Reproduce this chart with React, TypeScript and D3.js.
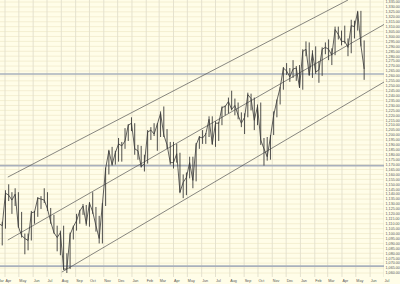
import React from 'react';
import * as d3 from 'd3';

const W = 400;
const H = 284;

// weekly bars, week ending Fridays starting 2004-03-19
const firstWeek = '2004-03-19';
const closes = [
  1110, 1108, 1141, 1139, 1134, 1140, 1107, 1098, 1095, 1093, 1121, 1122, 1136, 1135, 1134, 1125,
  1112, 1101, 1096, 1101, 1064, 1064, 1099, 1107, 1113, 1123, 1128, 1110, 1131, 1122, 1108, 1095,
  1130, 1166, 1184, 1170, 1182, 1191, 1189, 1194, 1210, 1212, 1186, 1184, 1168, 1171, 1203, 1205,
  1201, 1211, 1222, 1200, 1190, 1172, 1172, 1181, 1142, 1152, 1157, 1172, 1154, 1190, 1198, 1197,
  1201, 1216, 1191, 1212, 1212, 1228, 1229, 1234, 1226, 1230, 1220, 1212, 1218, 1241, 1237, 1215,
  1229, 1195, 1186, 1178, 1198, 1220, 1235, 1248, 1268, 1265, 1259, 1267, 1268, 1248, 1285, 1287,
  1261, 1283, 1264, 1266, 1287, 1289, 1287, 1281, 1307, 1302, 1295, 1295, 1289, 1311, 1310, 1325,
  1291, 1267,
];
const highs = [
  1125, 1112, 1144, 1150, 1142, 1146, 1142, 1122, 1100, 1100, 1123, 1123, 1137, 1138, 1146, 1142,
  1126, 1119, 1108, 1103, 1108, 1080, 1101, 1108, 1120, 1124, 1130, 1129, 1132, 1142, 1127, 1118,
  1131, 1167, 1185, 1188, 1184, 1197, 1193, 1207, 1211, 1218, 1212, 1190, 1189, 1180, 1205, 1208,
  1212, 1212, 1224, 1229, 1206, 1193, 1193, 1191, 1182, 1160, 1162, 1178, 1178, 1192, 1199, 1205,
  1202, 1219, 1219, 1214, 1213, 1229, 1230, 1238, 1245, 1237, 1233, 1223, 1222, 1243, 1242, 1238,
  1231, 1233, 1197, 1198, 1200, 1224, 1236, 1249, 1269, 1273, 1268, 1276, 1270, 1271, 1287, 1295,
  1294, 1286, 1290, 1275, 1289, 1294, 1297, 1288, 1310, 1310, 1306, 1311, 1298, 1317, 1316, 1326,
  1326, 1296,
];
const lows = [
  1105, 1088, 1105, 1133, 1120, 1128, 1106, 1096, 1079, 1083, 1093, 1110, 1117, 1125, 1131, 1123,
  1110, 1100, 1082, 1078, 1063, 1060, 1064, 1094, 1103, 1110, 1119, 1108, 1107, 1120, 1102, 1090,
  1090, 1128, 1160, 1169, 1170, 1173, 1173, 1186, 1194, 1204, 1180, 1175, 1167, 1163, 1171, 1195,
  1199, 1184, 1198, 1198, 1186, 1170, 1166, 1172, 1141, 1136, 1139, 1156, 1146, 1153, 1186, 1191,
  1191, 1198, 1190, 1188, 1194, 1210, 1220, 1222, 1225, 1220, 1216, 1208, 1201, 1218, 1225, 1205,
  1210, 1190, 1169, 1174, 1175, 1200, 1218, 1231, 1246, 1261, 1254, 1258, 1255, 1248, 1246, 1280,
  1260, 1258, 1262, 1253, 1260, 1282, 1276, 1271, 1281, 1297, 1291, 1293, 1280, 1283, 1298, 1306,
  1290, 1256,
];

const yMin = 1060;
const yMax = 1335;
const yStep = 5;
const levelLines = [1262, 1169, 1067];
const channelLines: [string, number, string, number][] = [
  ['2004-04-07', 1157.3, '2006-04-14', 1337],
  ['2004-04-07', 1093.4, '2006-07-01', 1312.2],
  ['2004-08-02', 1060.9, '2006-07-01', 1253.8],
];
const axisStart = '2004-03-01';
const axisEnd = '2006-07-01';

const parse = d3.timeParse('%Y-%m-%d');

export default function App() {
  const plotRight = 384;
  const plotBottom = 277;
  const x = d3
    .scaleTime()
    .domain([parse('2004-04-01')!, parse('2006-07-01')!])
    .range([5, 384]);
  const y = d3.scaleLinear().domain([yMin, yMax]).range([273, 2]);

  const weeks = d3.timeFriday.range(parse(firstWeek)!, d3.timeDay.offset(parse(firstWeek)!, 7 * closes.length));
  const months = d3.timeMonth.range(parse(axisStart)!, d3.timeDay.offset(parse(axisEnd)!, 1));
  const yTicks = d3.range(yMin, yMax + 1, yStep);
  const fmtY = d3.format(',.2f');
  const fmtM = d3.timeFormat('%b');

  const line = d3
    .line<number>()
    .x((_, i) => x(weeks[i]))
    .y((d) => y(d));

  return (
    <svg
      width={W}
      height={H}
      style={{ position: 'fixed', left: 0, top: 0, display: 'block' }}
      fontFamily="'Liberation Sans', Arial, sans-serif"
    >
      <defs>
        <clipPath id="plot">
          <rect x={0} y={0} width={plotRight} height={plotBottom} />
        </clipPath>
      </defs>
      <rect x={0} y={0} width={W} height={H} fill="#FFFDE8" />
      <g clipPath="url(#plot)">
        {yTicks.map((v) => (
          <line key={'h' + v} x1={0} x2={plotRight} y1={y(v)} y2={y(v)} stroke="#F1EBCB" strokeWidth={0.8} />
        ))}
        {months.map((m) => (
          <line key={'v' + +m} x1={x(m)} x2={x(m)} y1={0} y2={plotBottom} stroke="#E2DFCC" strokeWidth={0.9} />
        ))}
        {levelLines.map((v) => (
          <line key={'l' + v} x1={0} x2={plotRight} y1={y(v)} y2={y(v)} stroke="#A9B0BC" strokeWidth={1.6} />
        ))}
        {channelLines.map((c, i) => (
          <line
            key={'c' + i}
            x1={x(parse(c[0])!)}
            y1={y(c[1])}
            x2={x(parse(c[2])!)}
            y2={y(c[3])}
            stroke="#555555"
            strokeWidth={0.7}
          />
        ))}
        {weeks.map((d, i) => (
          <line key={'b' + i} x1={x(d)} x2={x(d)} y1={y(highs[i])} y2={y(lows[i])} stroke="#3a3a3a" strokeWidth={0.9} />
        ))}
        <path d={line(closes) || ''} fill="none" stroke="#3a3a3a" strokeWidth={0.8} />
      </g>
      {yTicks.map((v) => (
        <text key={'t' + v} x={385.5} y={y(v) + 1.3} fontSize={3.7} fill="#555">
          {fmtY(v)}
        </text>
      ))}
      {months.map((m) => (
        <text key={'m' + +m} x={Math.max(-2.5, x(m) + 0.5)} y={281.5} fontSize={3.7} fill="#555">
          {fmtM(m)}
        </text>
      ))}
    </svg>
  );
}
